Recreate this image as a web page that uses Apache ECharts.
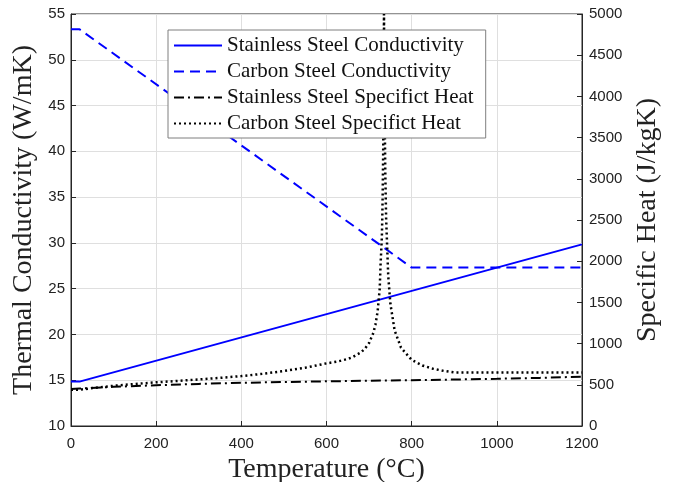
<!DOCTYPE html>
<html>
<head>
<meta charset="utf-8">
<script src="https://cdn.jsdelivr.net/npm/echarts@6/dist/echarts.min.js"></script>
<style>html,body{margin:0;padding:0;background:#fff;}#c{width:673px;height:482px;}</style>
</head>
<body>
<div id="c"></div>
<script>
// Stainless steel conductivity (W/mK)
const ssCondT = [0, 20, 1200];
const ssCondV = [14.85, 14.85, 29.84];
// Carbon steel conductivity (W/mK)
const csCondT = [0, 20, 800, 1200];
const csCondV = [53.33, 53.33, 27.3, 27.3];
// Stainless steel specific heat (J/kgK)
const ssHeatT = [0, 20, 100, 200, 300, 400, 500, 600, 700, 800, 900, 1000, 1100, 1200];
const ssHeatV = [450, 455, 475, 495, 511, 524, 534, 542, 549, 556, 564, 573, 584, 599];
// Carbon steel specific heat (J/kgK)
const csHeatT = [0, 20, 50, 100, 150, 200, 250, 300, 350, 400, 450, 500, 550, 575, 600, 625, 650, 660, 680, 690, 700, 710, 715, 720, 725, 727, 730, 731, 732, 733, 734, 735, 736, 738, 740, 745, 750, 760, 775, 800, 825, 850, 875, 900, 1200];
const csHeatV = [440, 440, 460, 488, 510, 530, 547, 565, 584, 606, 633, 667, 708, 733, 760, 781, 814, 833, 890, 937, 1008, 1130, 1231, 1388, 1666, 1966, 2291, 2523, 2833, 3266, 3917, 5000, 4109, 3091, 2525, 1818, 1483, 1160, 950, 803, 735, 695, 669, 650, 650];

const xTicks = [0, 1200, 200];
const leftTicks = [10, 55, 5];
const rightTicks = [0, 5000, 500];

const names = ['Stainless Steel Conductivity', 'Carbon Steel Conductivity', 'Stainless Steel Specifict Heat', 'Carbon Steel Specifict Heat'];
const pair = (t, v) => t.map((x, i) => [x, v[i]]);

const serif = 'Liberation Serif';
const sans = 'Liberation Sans';
const axisCol = '#262626';
const plain = v => String(v);

const chart = echarts.init(document.getElementById('c'), null, {renderer: 'canvas'});
chart.setOption({
  animation: false,
  backgroundColor: '#fff',
  grid: {left: 71, right: 91, top: 14, bottom: 56, containLabel: false, outerBoundsMode: 'none',
         show: true, borderColor: axisCol, borderWidth: 1, backgroundColor: 'transparent'},
  legend: {
    orient: 'vertical', left: 168, top: 30,
    itemWidth: 48, itemHeight: 20, itemGap: 5,
    padding: [5, 12, 4, 5],
    backgroundColor: '#fff', borderColor: '#7f7f7f', borderWidth: 1,
    itemStyle: {opacity: 0},
    textStyle: {fontFamily: serif, fontSize: 21, color: '#111'},
    data: names
  },
  xAxis: {
    type: 'value', min: xTicks[0], max: xTicks[1], interval: xTicks[2],
    name: 'Temperature (°C)', nameLocation: 'middle', nameGap: 27,
    nameTextStyle: {fontFamily: serif, fontSize: 28, color: '#222'},
    axisLine: {show: true, lineStyle: {color: axisCol}},
    axisTick: {show: true, inside: true, length: 5, lineStyle: {color: axisCol}},
    axisLabel: {fontFamily: sans, fontSize: 15, color: '#222', margin: 10, formatter: plain},
    splitLine: {show: true, lineStyle: {color: '#dfdfdf', width: 1}}
  },
  yAxis: [{
    type: 'value', min: leftTicks[0], max: leftTicks[1], interval: leftTicks[2], position: 'left',
    name: 'Thermal Conductivity (W/mK)', nameLocation: 'middle', nameGap: 30, nameRotate: 90,
    nameTextStyle: {fontFamily: serif, fontSize: 28, color: '#222'},
    axisLine: {show: true, lineStyle: {color: axisCol}},
    axisTick: {show: true, inside: true, length: 5, lineStyle: {color: axisCol}},
    axisLabel: {fontFamily: sans, fontSize: 15, color: '#222', margin: 6, formatter: plain},
    splitLine: {show: true, lineStyle: {color: '#dfdfdf', width: 1}}
  }, {
    type: 'value', min: rightTicks[0], max: rightTicks[1], interval: rightTicks[2], position: 'right',
    name: 'Specific Heat (J/kgK)', nameLocation: 'middle', nameGap: 48, nameRotate: 90,
    nameTextStyle: {fontFamily: serif, fontSize: 28, color: '#222'},
    axisLine: {show: true, lineStyle: {color: axisCol}},
    axisTick: {show: true, inside: true, length: 5, lineStyle: {color: axisCol}},
    axisLabel: {fontFamily: sans, fontSize: 15, color: '#222', margin: 7, formatter: plain},
    splitLine: {show: false}
  }],
  series: [
    {name: names[0], type: 'line', yAxisIndex: 0, data: pair(ssCondT, ssCondV), symbol: 'none', clip: true,
     lineStyle: {color: '#0000ff', width: 2, type: 'solid'}, itemStyle: {color: '#0000ff'}},
    {name: names[1], type: 'line', yAxisIndex: 0, data: pair(csCondT, csCondV), symbol: 'none', clip: true,
     lineStyle: {color: '#0000ff', width: 2, type: [10, 6]}, itemStyle: {color: '#0000ff'}},
    {name: names[2], type: 'line', yAxisIndex: 1, data: pair(ssHeatT, ssHeatV), symbol: 'none', clip: true,
     lineStyle: {color: '#000', width: 2, type: [10, 4, 2, 4]}, itemStyle: {color: '#000'}},
    {name: names[3], type: 'line', yAxisIndex: 1, data: pair(csHeatT, csHeatV), symbol: 'none', clip: true,
     lineStyle: {color: '#000', width: 2.5, type: [2, 3]}, itemStyle: {color: '#000'}}
  ]
});
</script>
</body>
</html>
